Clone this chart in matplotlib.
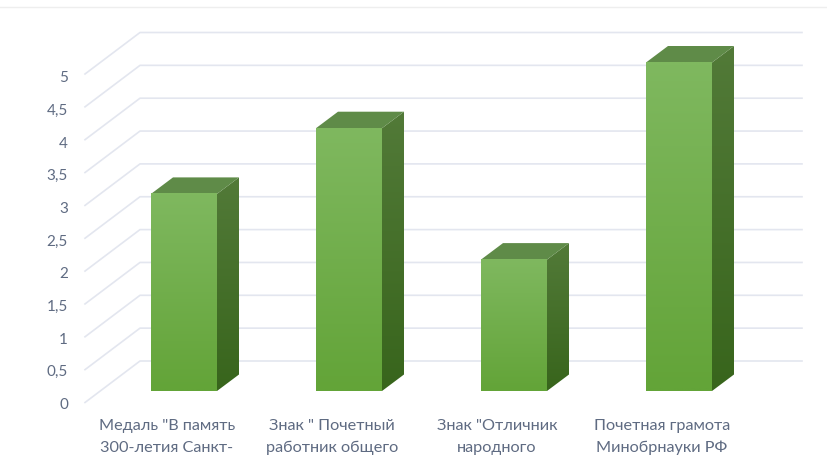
import matplotlib
matplotlib.use("Agg")
import matplotlib.pyplot as plt
import numpy as np
from matplotlib.patches import Polygon

categories = ['Медаль "В память\n300-летия Санкт-', 'Знак " Почетный\nработник общего',
              'Знак "Отличник\nнародного', 'Почетная грамота\nМинобрнауки РФ']
values = [3, 4, 2, 5]
ticks = [0, 0.5, 1, 1.5, 2, 2.5, 3, 3.5, 4, 4.5, 5]
tick_labels = ['0', '0,5', '1', '1,5', '2', '2,5', '3', '3,5', '4', '4,5', '5']

W, H = 827, 456
# pixel layout of the fake 3d chart
cat_step = 165.0
first_center = 184.0
base_y = 392.0
unit = 65.7
bar_w = 66 / cat_step
dx = 22 / cat_step
dy = 16.5 / unit

plt.rcParams['font.family'] = ['Lato', 'DejaVu Sans']
fig = plt.figure(figsize=(W / 100, H / 100), dpi=100)
ax = fig.add_axes([0, 0, 1, 1])
ax.axis('off')


def px_x(p):
    return (p - first_center) / cat_step


def px_dy(p):
    return p / unit


GRID = '#e3e6ef'
TEXT = '#5f6b82'
back_l, back_r = px_x(140), px_x(802)
front_l = px_x(85)
wall_off = px_dy(30)    # back wall sits above the bar base
front_off = px_dy(-11.5)  # front edge of the floor

for t, lab in zip(ticks, tick_labels):
    yb = t + wall_off
    yf = t + front_off
    ax.plot([front_l, back_l, back_r], [yf, yb, yb], color=GRID, lw=1.2, zorder=1)
    ax.text(px_x(68), t * 0.995 + px_dy(-13), lab, ha='right', va='center', fontsize=11, color=TEXT)

# thin line at the very top of the picture
ax.plot([px_x(0), px_x(827)], [px_dy(base_y - 8)] * 2, color='#eeeeee', lw=1, zorder=1)


def gradient(x0, x1, y0, y1, top, bottom, clip=None, z=3):
    g = np.linspace(0, 1, 64)[:, None, None]
    img = (1 - g) * np.array(matplotlib.colors.to_rgb(top)) + g * np.array(matplotlib.colors.to_rgb(bottom))
    im = ax.imshow(img, extent=[x0, x1, y0, y1], aspect='auto', zorder=z, origin='upper', interpolation='bilinear')
    if clip is not None:
        poly = Polygon(clip, transform=ax.transData, fc='none', ec='none')
        ax.add_patch(poly)
        im.set_clip_path(poly)


for i, v in enumerate(values):
    l, r = i - bar_w / 2, i + bar_w / 2
    # side face
    side = [(r, 0), (r + dx, dy), (r + dx, v + dy), (r, v)]
    gradient(r, r + dx, 0, v + dy, '#527a38', '#38651c', clip=side)
    # top face
    ax.add_patch(Polygon([(l, v), (l + dx, v + dy), (r + dx, v + dy), (r, v)], fc='#5f8b48', ec='none', zorder=3))
    # front face
    gradient(l, r, 0, v, '#7fb85f', '#63a438', z=4)
    line1, line2 = categories[i].split('\n')
    ax.text(i - 17 / cat_step, px_dy(-34), line1, ha='center', va='center', fontsize=11.7, color=TEXT)
    ax.text(i - 17 / cat_step, px_dy(-56), line2, ha='center', va='center', fontsize=11.7, color=TEXT)

ax.set_xlim(-first_center / cat_step, (W - first_center) / cat_step)
ax.set_ylim((base_y - H) / unit, base_y / unit)
fig.savefig('out.png', dpi=100)
